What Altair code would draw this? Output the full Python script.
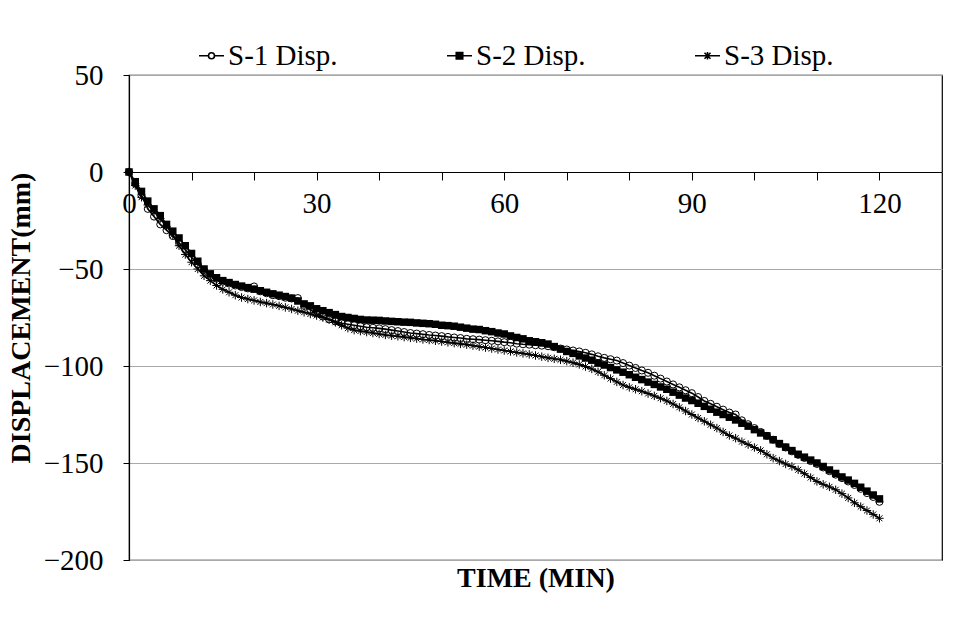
import altair as alt
import pandas as pd

# ---- data ----
TIME = list(range(121))  # minutes, one marker per minute

S1 = [0, -6, -12, -19, -23, -27, -30, -33, -36.5, -40,
      -44, -47.5, -50.5, -53, -55, -56.5, -57.5, -58.5, -59.3, -60,
      -59, -61.5, -62.5, -63.5, -64, -64.8, -65.2, -65, -69, -71,
      -73, -74.5, -76, -77, -78, -78.5, -79, -79.5, -80, -80.3,
      -80.6, -81, -81.5, -82, -82.5, -83, -83.3, -83.6, -84, -84.3,
      -84.6, -85, -85.3, -85.6, -86, -86.2, -86.4, -86.7, -87, -87.3,
      -87.7, -88, -88.5, -88.8, -89, -89.3, -89.5, -89.8, -90.3, -91,
      -91.5, -92, -92.5, -93.2, -94, -95, -95.8, -96.5, -97.2, -98.5,
      -99.8, -101, -102.3, -103.5, -105, -106.5, -108, -109.5, -111, -112.5,
      -114, -116, -118, -119.5, -121, -122.5, -124, -125, -128, -130,
      -132, -134, -136, -138, -140.2, -142, -144, -145.8, -147.4, -149,
      -150.5, -152.3, -154.2, -156, -157.8, -159.5, -161.3, -163.3, -165.5, -167.5,
      -170]

S2 = [0, -5, -10, -15, -19, -22.5, -27, -30.5, -34, -38,
      -42, -46, -50, -52.5, -54.5, -56, -57, -58, -58.8, -59.6,
      -60.4, -61.2, -62, -62.8, -63.5, -64.2, -65, -66.5, -68, -69,
      -70.5, -71.5, -72.5, -73.5, -74.5, -75, -75.5, -76, -76.3, -76.4,
      -76.5, -76.8, -77, -77.2, -77.4, -77.5, -77.8, -78, -78.2, -78.5,
      -79, -79.2, -79.5, -80, -80.5, -81, -81.2, -81.8, -82.3, -83,
      -83.5, -84.5, -85.3, -86, -87, -87.5, -88, -88.7, -90, -91.3,
      -92.5, -93.5, -94.8, -95.9, -97, -98.5, -99.5, -100.8, -102, -103.2,
      -104.5, -105.8, -107, -108.3, -109.5, -110.8, -112, -113.5, -115, -116.5,
      -117.8, -119.2, -120.8, -122.3, -123.8, -125, -126.4, -127.8, -129.5, -131,
      -132.8, -134.5, -136, -138, -140, -141.8, -143.6, -145.5, -147, -148.5,
      -150, -151.8, -153.6, -155.4, -157.2, -158.8, -160.5, -162.5, -164.5, -166.5,
      -168.5]

S3 = [0, -7, -13, -17, -20.5, -24, -28, -32.5, -38, -42.5,
      -46.5, -50, -53.5, -56, -58.5, -60.5, -62, -63.5, -64.7, -65.5,
      -66.2, -67, -67.6, -68.3, -69, -69.8, -70.6, -71.5, -72.3, -73.2,
      -74, -75, -76, -77.5, -79, -80.5, -81.5, -82, -82.5, -83,
      -83.5, -84, -84.4, -84.7, -85.1, -85.5, -85.9, -86.3, -86.6, -87,
      -87.4, -87.8, -88.2, -88.6, -89, -89.5, -90, -90.5, -91, -91.5,
      -92, -92.5, -93, -93.5, -94, -94.6, -95.2, -95.8, -96.3, -96.8,
      -97.5, -98.3, -99.2, -100.3, -101.5, -103, -104.8, -106.5, -108.2, -109.8,
      -111, -112, -113, -114.2, -115.4, -116.6, -118, -119.6, -121.3, -123.2,
      -125, -126.8, -128.5, -130.3, -132, -134, -135.8, -137.2, -139, -140.5,
      -142, -143.5, -145.5, -147.5, -149, -150.5, -151.8, -153.5, -155.5, -157.5,
      -159.5, -161, -162.3, -163.8, -165.8, -168, -170.5, -172.5, -174.5, -176.5,
      -178.5]

SERIES = ["S-1 Disp.", "S-2 Disp.", "S-3 Disp."]
X_TICKS = [0, 10, 20, 30, 40, 50, 60, 70, 80, 90, 100, 110, 120]
Y_TICKS = [50, 0, -50, -100, -150, -200]

rows = []
for name, vals in zip(SERIES, [S1, S2, S3]):
    for t, v in zip(TIME, vals):
        rows.append({"t": t, "v": v, "series": name})
df = pd.DataFrame(rows)

W, H = 813, 485
Y_MIN, Y_MAX = -200, 50
ZERO_OFFSET = -H * (0 - Y_MIN) / (Y_MAX - Y_MIN)
SERIF = "Liberation Serif"

x_axis = alt.Axis(
    values=X_TICKS,
    labelExpr="datum.value % 30 == 0 ? datum.label : ''",
    offset=ZERO_OFFSET,
    labelFlush=False,
    labelFont=SERIF, labelFontSize=29, labelColor="black", labelPadding=9,
    tickSize=8, tickColor="black", tickWidth=1,
    domainColor="black", domainWidth=1.2,
    grid=False,
    title="TIME (MIN)", titleFont=SERIF, titleFontSize=28, titleFontWeight="bold",
    titleColor="black", titleY=392, titleBaseline="top",
)
y_axis = alt.Axis(
    values=Y_TICKS,
    labelFont=SERIF, labelFontSize=29, labelColor="black", labelPadding=20,
    tickSize=6, tickColor="black", tickWidth=1,
    domainColor="black", domainWidth=1.2,
    grid=True, gridColor="#a8a8a8", gridWidth=1,
    title="DISPLACEMENT(mm)", titleFont=SERIF, titleFontSize=28, titleFontWeight="bold",
    titleColor="black", titleX=-108, titleY=H / 2, titleAngle=270,
    titleBaseline="middle", titleAlign="center",
)

x_enc = alt.X("t:Q", scale=alt.Scale(domain=[0, 130], nice=False, zero=False), axis=x_axis)
y_enc = alt.Y("v:Q", scale=alt.Scale(domain=[Y_MIN, Y_MAX], nice=False, zero=False), axis=y_axis)

base = alt.Chart(df)

STAR = "M-1,0L1,0M0,-1L0,1M-0.7,-0.7L0.7,0.7M-0.7,0.7L0.7,-0.7"

layers = []
marker_styles = [
    dict(shape="circle", filled=False, size=50, strokeWidth=1.0),
    dict(shape="square", filled=True, size=56, strokeWidth=0),
    dict(shape=STAR, filled=False, size=72, strokeWidth=1.0),
]
for name, ms in zip(SERIES, marker_styles):
    sub = base.transform_filter(alt.datum.series == name)
    layers.append(sub.mark_line(color="black", strokeWidth=1.6).encode(x=x_enc, y=y_enc))
    layers.append(
        sub.mark_point(color="black", opacity=1, **ms).encode(x=x_enc, y=y_enc)
    )

# legend built from the scales (line + marker symbols)
LEG_CIRCLE = "M-1,0L-0.24,0M0.24,0L1,0M0.24,0A0.24,0.24,0,1,1,-0.24,0A0.24,0.24,0,1,1,0.24,0Z"
LEG_SQUARE = "M-1,0L1,0M-0.26,-0.26L0.26,-0.26L0.26,0.26L-0.26,0.26Z"
LEG_STAR = "M-1,0L1,0M0,-0.3L0,0.3M-0.24,-0.24L0.24,0.24M-0.24,0.24L0.24,-0.24"

legend = alt.Legend(
    orient="none", legendX=68, legendY=-34, direction="horizontal", title=None,
    labelFont=SERIF, labelFontSize=29, labelColor="black", labelOffset=2,
    symbolSize=625, symbolStrokeWidth=1.6, symbolStrokeColor="black", symbolOpacity=1,
    columnPadding=105, padding=0,
)
leg_df = pd.DataFrame({"series": SERIES})
legend_layer = alt.Chart(leg_df).transform_filter("false").mark_point(
    filled=True, size=625, strokeWidth=1.6, opacity=1
).encode(
    shape=alt.Shape("series:N", scale=alt.Scale(domain=SERIES, range=[LEG_CIRCLE, LEG_SQUARE, LEG_STAR]), legend=legend),
    fill=alt.Fill("series:N", scale=alt.Scale(domain=SERIES, range=["white", "black", "black"]), legend=legend),
    stroke=alt.Stroke("series:N", scale=alt.Scale(domain=SERIES, range=["black", "black", "black"]), legend=legend),
)

chart = alt.layer(*layers, legend_layer).properties(
    width=W, height=H,
    padding={"left": 129, "top": 75, "right": 35, "bottom": 78},
    autosize=alt.AutoSizeParams(type="none"),
).configure_view(stroke="black", strokeWidth=1.2)

chart.save("out.html", embed_options={"renderer": "svg", "actions": False})
